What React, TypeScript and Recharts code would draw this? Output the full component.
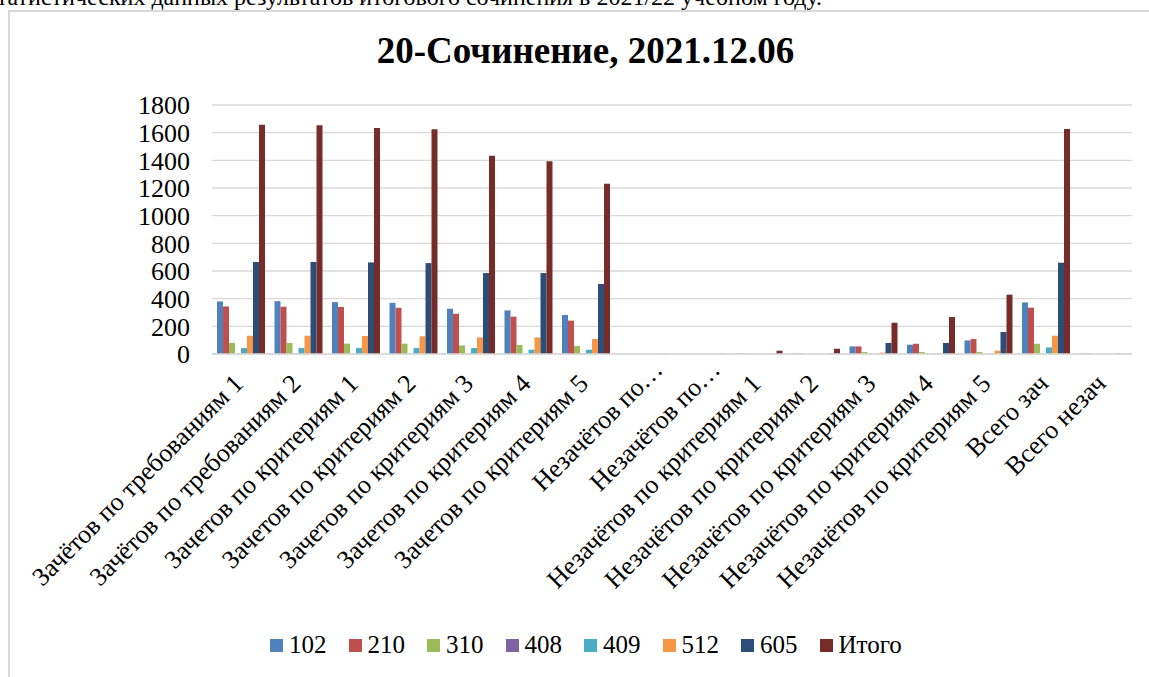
import { Bar, BarChart, CartesianGrid, Legend, XAxis, YAxis } from "recharts";

const categories = [
  "Зачётов по требованиям 1",
  "Зачётов по требованиям 2",
  "Зачетов по критериям 1",
  "Зачетов по критериям 2",
  "Зачетов по критериям 3",
  "Зачетов по критериям 4",
  "Зачетов по критериям 5",
  "Незачётов по…",
  "Незачётов по…",
  "Незачётов по критериям 1",
  "Незачётов по критериям 2",
  "Незачётов по критериям 3",
  "Незачётов по критериям 4",
  "Незачётов по критериям 5",
  "Всего зач",
  "Всего незач"
];

const s102 = [380, 382, 375, 370, 327, 315, 282, 0, 0, 2, 3, 55, 67, 98, 373, 3];
const s210 = [344, 342, 340, 334, 291, 270, 241, 0, 0, 2, 3, 55, 74, 108, 335, 3];
const s310 = [80, 80, 75, 75, 62, 65, 58, 0, 0, 0, 0, 14, 14, 14, 74, 0];
const s408 = [0, 0, 0, 0, 0, 0, 0, 0, 0, 0, 0, 0, 0, 0, 0, 0];
const s409 = [43, 43, 43, 43, 43, 31, 31, 0, 0, 0, 0, 0, 3, 3, 48, 0];
const s512 = [132, 132, 130, 128, 120, 120, 108, 0, 0, 0, 0, 10, 3, 24, 132, 0];
const s605 = [665, 665, 662, 657, 585, 585, 506, 0, 0, 1, 3, 80, 80, 159, 660, 3];
const total = [1658, 1653, 1634, 1624, 1434, 1393, 1231, 2, 2, 24, 38, 226, 267, 429, 1627, 0];

const yTicks = [0, 200, 400, 600, 800, 1000, 1200, 1400, 1600, 1800];

const series = [
  { key: "s102", name: "102", color: "#4F81BD", values: s102 },
  { key: "s210", name: "210", color: "#C0504D", values: s210 },
  { key: "s310", name: "310", color: "#9BBB59", values: s310 },
  { key: "s408", name: "408", color: "#8064A2", values: s408 },
  { key: "s409", name: "409", color: "#4BACC6", values: s409 },
  { key: "s512", name: "512", color: "#F79646", values: s512 },
  { key: "s605", name: "605", color: "#2C4D75", values: s605 },
  { key: "total", name: "Итого", color: "#772C2A", values: total }
];

const data = categories.map((name, i) => {
  const row: Record<string, string | number> = { name };
  series.forEach((s) => (row[s.key] = s.values[i]));
  return row;
});

const font = "'Liberation Serif', 'Times New Roman', serif";

// Excel pushes the truncated ("…") labels a bit further along their baseline
function RotatedTick({ x, y, payload }: any) {
  const cut = String(payload.value).endsWith("…");
  const tx = x + 4 + (cut ? 17 : 0);
  const ty = y + 23 - (cut ? 14 : 0);
  return (
    <g transform={`translate(${tx},${ty})`}>
      <text textAnchor="end" transform="rotate(-45)" fill="#000" style={{ fontFamily: font, fontSize: 26 }}>
        {payload.value}
      </text>
    </g>
  );
}

function LegendRow() {
  return (
    <div style={{ display: "flex", alignItems: "center", fontFamily: font, fontSize: 25, height: 30 }}>
      {series.map((s) => (
        <div key={s.key} style={{ display: "flex", alignItems: "center", marginRight: 22 }}>
          <span style={{ width: 13, height: 13, background: s.color, marginRight: 6, display: "inline-block" }} />
          <span style={{ color: "#000" }}>{s.name}</span>
        </div>
      ))}
    </div>
  );
}

export default function App() {
  return (
    <div
      style={{
        position: "absolute",
        left: 0,
        top: 0,
        width: 1149,
        height: 677,
        overflow: "hidden",
        background: "#fff",
        fontFamily: font
      }}
    >
      <div
        style={{
          position: "absolute",
          right: 327,
          top: -15,
          fontSize: 24,
          lineHeight: "24px",
          whiteSpace: "nowrap",
          color: "#000"
        }}
      >
        Анализ статистических данных результатов итогового сочинения в 2021/22 учебном году.
      </div>
      <div
        style={{
          position: "absolute",
          left: 8,
          top: 10,
          width: 1200,
          height: 700,
          border: "2px solid #d9d9d9"
        }}
      />
      <div
        style={{
          position: "absolute",
          left: 0,
          top: 32,
          width: 1171,
          textAlign: "center",
          fontSize: 37,
          lineHeight: "37px",
          fontWeight: "bold",
          color: "#000"
        }}
      >
        20-Сочинение, 2021.12.06
      </div>
      <div style={{ position: "absolute", left: 0, top: 0 }}>
        <BarChart
          width={1149}
          height={677}
          data={data}
          margin={{ top: 105, right: 17, left: 0, bottom: 0 }}
          barGap={0}
          barSize={6}
        >
          <CartesianGrid vertical={false} stroke="#d9d9d9" strokeWidth={1.4} />
          <XAxis
            dataKey="name"
            interval={0}
            height={323}
            tick={<RotatedTick />}
            tickLine={false}
            axisLine={{ stroke: "#d9d9d9", strokeWidth: 1.4 }}
          />
          <YAxis
            width={212}
            domain={[0, 1800]}
            ticks={yTicks}
            interval={0}
            axisLine={false}
            tickLine={false}
            tickSize={0}
            tickMargin={22}
            tick={{ fill: "#000", fontSize: 26, style: { fontFamily: font } }}
          />
          <Legend
            layout="horizontal"
            align="center"
            verticalAlign="middle"
            wrapperStyle={{ top: 630, left: 270, width: 800 }}
            content={() => <LegendRow />}
          />
          {series.map((s) => (
            <Bar key={s.key} dataKey={s.key} name={s.name} fill={s.color} isAnimationActive={false} />
          ))}
        </BarChart>
      </div>
    </div>
  );
}
